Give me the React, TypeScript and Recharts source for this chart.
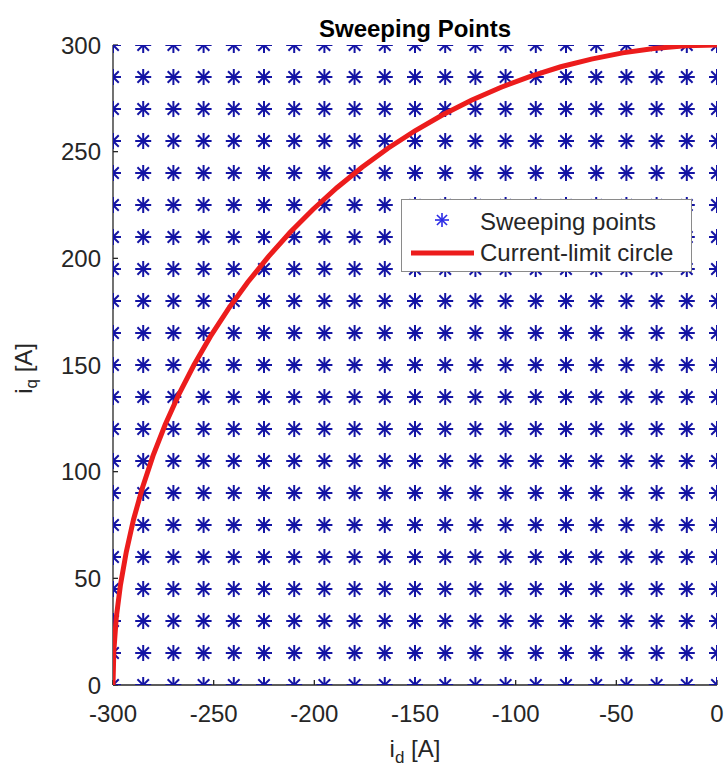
import React from 'react'
import { ScatterChart, Scatter, XAxis, YAxis } from 'recharts'

// sweep grid (A)
const ID_GRID = [-300, -285, -270, -255, -240, -225, -210, -195, -180, -165, -150, -135, -120, -105, -90, -75, -60, -45, -30, -15, 0]
const IQ_GRID = [0, 15, 30, 45, 60, 75, 90, 105, 120, 135, 150, 165, 180, 195, 210, 225, 240, 255, 270, 285, 300]

// current-limit circle
const CIRCLE_ID = [0, -15.7, -31.4, -46.9, -62.4, -77.6, -92.7, -107.5, -122.0, -136.2, -150.0, -163.4, -176.3, -188.8, -200.7, -212.1, -222.9, -233.1, -242.7, -251.6, -259.8, -267.3, -274.1, -280.1, -285.3, -289.8, -293.4, -296.3, -298.4, -299.6, -300]
const CIRCLE_IQ = [300, 299.6, 298.4, 296.3, 293.4, 289.8, 285.3, 280.1, 274.1, 267.3, 259.8, 251.6, 242.7, 233.1, 222.9, 212.1, 200.7, 188.8, 176.3, 163.4, 150.0, 136.2, 122.0, 107.5, 92.7, 77.6, 62.4, 46.9, 31.4, 15.7, 0]

const X_TICKS = [-300, -250, -200, -150, -100, -50, 0]
const Y_TICKS = [0, 50, 100, 150, 200, 250, 300]

const sweepData = IQ_GRID.flatMap(iq => ID_GRID.map(id => ({ id, iq })))
const circleData = CIRCLE_ID.map((id, i) => ({ id, iq: CIRCLE_IQ[i] }))

const FONT = '"Liberation Sans", Arial, sans-serif'
const INK = '#262626'
const BLUE = '#1414a4'
const RED = '#ec1c1c'

function Asterisk({ cx, cy, r = 8, color = BLUE, sw = 2 }: any) {
  const d = r * 0.72
  return (
    <g stroke={color} strokeWidth={sw}>
      <line x1={cx - r} y1={cy} x2={cx + r} y2={cy} />
      <line x1={cx} y1={cy - r} x2={cx} y2={cy + r} />
      <line x1={cx - d} y1={cy - d} x2={cx + d} y2={cy + d} />
      <line x1={cx - d} y1={cy + d} x2={cx + d} y2={cy - d} />
    </g>
  )
}

const noTick = () => <g />

export default function App() {
  const tick = { fontSize: 24, fill: INK, fontFamily: FONT }
  const axisLine = { stroke: INK, strokeWidth: 1.3 }
  return (
    <div style={{ position: 'absolute', left: 0, top: 0, width: 725, height: 773, background: '#fff', fontFamily: FONT }}>
      <ScatterChart width={725} height={773} margin={{ top: 45, right: 8, bottom: 38, left: 53 }}>
        <XAxis
          dataKey="id" type="number" domain={[-300, 0]} ticks={X_TICKS} allowDataOverflow
          height={50} tickSize={-5} tickMargin={25} tick={tick}
          axisLine={axisLine} tickLine={axisLine}
        />
        <XAxis
          xAxisId="top" orientation="top" type="number" domain={[-300, 0]} ticks={X_TICKS} allowDataOverflow
          height={0} tickSize={-5} tick={noTick} axisLine={axisLine} tickLine={axisLine}
        />
        <YAxis
          dataKey="iq" type="number" domain={[0, 300]} ticks={Y_TICKS} allowDataOverflow
          width={60} tickSize={-5} tickMargin={17} tick={tick}
          axisLine={axisLine} tickLine={axisLine}
        />
        <YAxis
          yAxisId="right" orientation="right" type="number" domain={[0, 300]} ticks={Y_TICKS} allowDataOverflow
          width={0} tickSize={-5} tick={noTick} axisLine={axisLine} tickLine={axisLine}
        />
        <Scatter data={sweepData} shape={<Asterisk />} isAnimationActive={false} />
        <Scatter
          data={circleData} line={{ stroke: RED, strokeWidth: 5 }} lineType="joint"
          shape={noTick} isAnimationActive={false}
        />
      </ScatterChart>

      <div style={{ position: 'absolute', left: 0, width: 830, top: 15, textAlign: 'center', fontWeight: 'bold', fontSize: 24, color: '#000', lineHeight: '28px' }}>
        Sweeping Points
      </div>

      <div style={{ position: 'absolute', left: 0, width: 830, top: 735, textAlign: 'center', fontSize: 24, color: INK, lineHeight: '28px' }}>
        i<sub style={{ fontSize: 17 }}>d</sub> [A]
      </div>

      <div style={{ position: 'absolute', left: -32, top: 350, width: 120, textAlign: 'center', fontSize: 24, color: INK, lineHeight: '28px', transform: 'rotate(-90deg)' }}>
        i<sub style={{ fontSize: 17 }}>q</sub> [A]
      </div>

      <div style={{ position: 'absolute', left: 401, top: 199, width: 289, height: 71, border: '1.3px solid #8a8a8a', background: '#fff', fontSize: 24, color: INK }}>
        <svg width={80} height={71} style={{ position: 'absolute', left: 0, top: 0 }}>
          <Asterisk cx={40} cy={20} r={7} sw={1.6} color="#2a2ae6" />
          <line x1={9} y1={53} x2={72} y2={53} stroke={RED} strokeWidth={5} />
        </svg>
        <div style={{ position: 'absolute', left: 78, top: 8, lineHeight: '28px' }}>Sweeping points</div>
        <div style={{ position: 'absolute', left: 78, top: 39, lineHeight: '28px' }}>Current-limit circle</div>
      </div>
    </div>
  )
}
